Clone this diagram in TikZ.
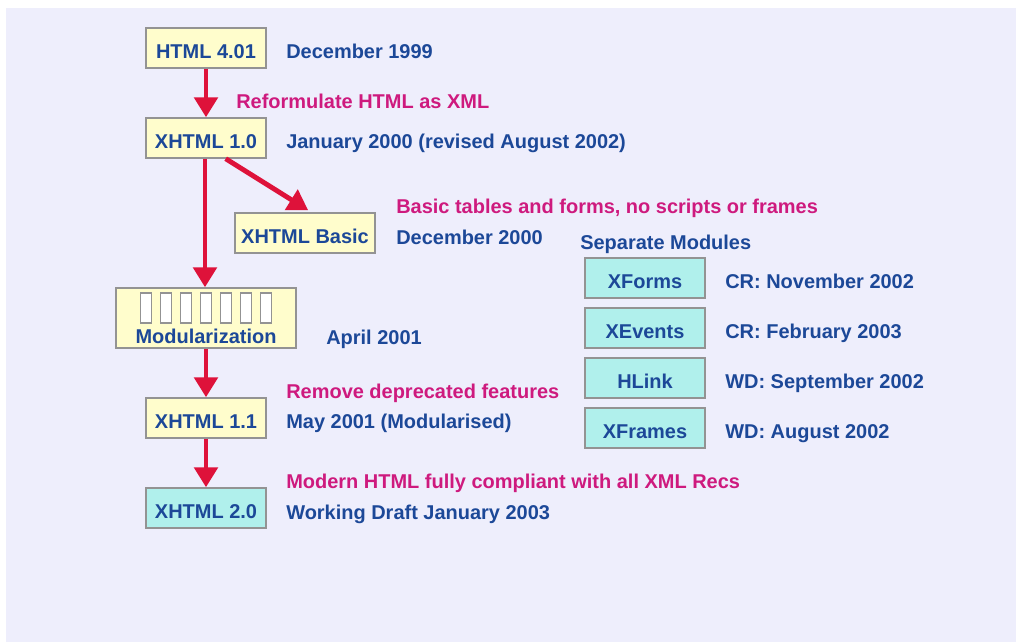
\documentclass[tikz,border=0pt]{standalone}
\usepackage{fontspec}
\setmainfont{Liberation Sans}
\usetikzlibrary{arrows.meta}
\definecolor{bgcol}{RGB}{238,238,252}
\definecolor{txtblue}{RGB}{28,72,152}
\definecolor{notepink}{RGB}{206,26,126}
\definecolor{arrred}{RGB}{222,18,58}
\definecolor{boxyel}{RGB}{255,253,204}
\definecolor{boxaqua}{RGB}{176,240,236}
\begin{document}
\begin{tikzpicture}[x=0.025cm,y=-0.025cm,
  every node/.style={font=\fontsize{14.2}{17}\selectfont\bfseries,inner sep=0,text height=10.2pt,text depth=0pt},
  verbox/.style={draw=gray!85,line width=1pt,fill=boxyel,text=txtblue,minimum width=3cm,minimum height=1cm,text height=14.4pt},
  modbox/.style={verbox,fill=boxaqua},
  date/.style={anchor=west,text=txtblue},
  note/.style={anchor=west,text=notepink},
  flow/.style={arrred,line width=3.5pt,-{Triangle[length=0.5cm,width=0.58cm]}},
  slot/.style={draw=gray!85,line width=0.8pt,fill=white}]
\useasboundingbox (0,0) rectangle (1016,642);
\fill[bgcol] (6,8) rectangle (1016,642);
% version chain
\node[verbox] (h4) at (206,48) {HTML 4.01};
\node[verbox] (x10) at (206,138) {XHTML 1.0};
\node[verbox,minimum width=3.5cm] (basic) at (305,233) {XHTML Basic};
\node[verbox,minimum width=4.5cm,minimum height=1.5cm] (mod) at (206,318) {};
\foreach \i in {0,...,6} \draw[slot] (140.5+20*\i,293) rectangle +(11,30);
\node[text=txtblue] (modt) at (206,336) {Modularization};
\node[verbox] (x11) at (206,418) {XHTML 1.1};
\node[modbox] (x20) at (206,508) {XHTML 2.0};
\draw[flow] (h4) -- (x10);
\draw[flow] ([xshift=-1.025cm]x10.south east) -- ([shift={(0.08cm,0.05cm)}]basic.north);
\draw[flow] ([xshift=-0.025cm]x10.south) -- ([xshift=-0.025cm]mod.north);
\draw[flow] (mod) -- (x11);
\draw[flow] (x11) -- (x20);
% dates and notes
\node[date] (d1) at (286,51) {December 1999};
\node[note] (n1) at (236,101) {Reformulate HTML as XML};
\node[date] (d2) at (286,141) {January 2000 (revised August 2002)};
\node[note] (n2) at (396,206) {Basic tables and forms, no scripts or frames};
\node[date] (d3) at (396,237) {December 2000};
\node[date] (d4) at (326,337) {April 2001};
\node[note] (n3) at (286,391) {Remove deprecated features};
\node[date] (d5) at (286,421) {May 2001 (Modularised)};
\node[note] (n4) at (286,481) {Modern HTML fully compliant with all XML Recs};
\node[date] (d6) at (286,512) {Working Draft January 2003};
% separate modules
\node[date] (sep) at (580,242) {Separate Modules};
\foreach \y/\m/\d in {278/XForms/CR: November 2002,328/XEvents/CR: February 2003,378/HLink/WD: September 2002,428/XFrames/WD: August 2002}{
  \node[modbox] (\m) at (645,\y) {\m};
  \node[date] (\m-d) at (725,\y+3) {\d};
}
\end{tikzpicture}
\end{document}
